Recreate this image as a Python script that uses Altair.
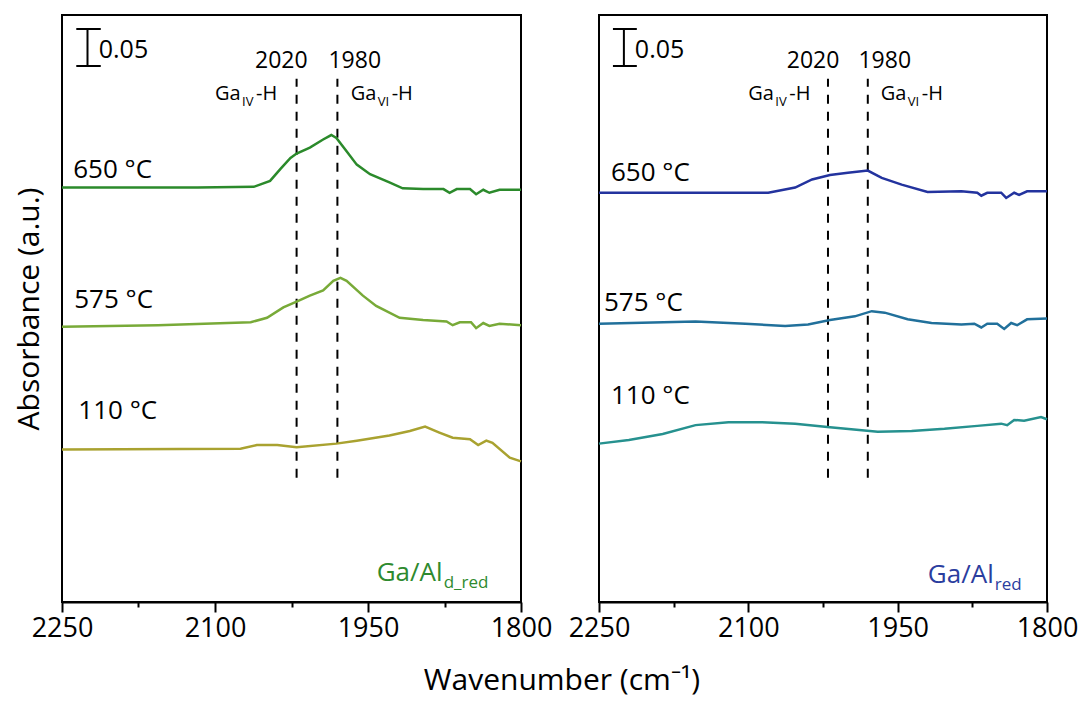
import altair as alt
import pandas as pd

# ---------------- data (absorbance incl. stacking offset) ----------------
L650_wn = [2250, 2117, 2062, 2046, 2036, 2026, 2020, 2007, 1994, 1986, 1981, 1971, 1961, 1948, 1929, 1916, 1896, 1876, 1870, 1863, 1850, 1844, 1837, 1831, 1821, 1800]
L650_A = [0.560, 0.560, 0.561, 0.569, 0.585, 0.600, 0.606, 0.614, 0.625, 0.631, 0.627, 0.609, 0.591, 0.578, 0.567, 0.559, 0.558, 0.558, 0.553, 0.558, 0.558, 0.551, 0.557, 0.553, 0.557, 0.557]

L575_wn = [2250, 2156, 2065, 2049, 2033, 2020, 2007, 1994, 1984, 1977, 1971, 1955, 1942, 1919, 1896, 1873, 1867, 1860, 1849, 1844, 1837, 1831, 1821, 1800]
L575_A = [0.372, 0.374, 0.378, 0.384, 0.398, 0.406, 0.414, 0.421, 0.434, 0.438, 0.434, 0.414, 0.400, 0.384, 0.381, 0.379, 0.374, 0.378, 0.378, 0.370, 0.377, 0.373, 0.376, 0.374]

L110_wn = [2250, 2075, 2059, 2039, 2020, 1981, 1961, 1929, 1909, 1894, 1880, 1867, 1850, 1842, 1834, 1828, 1811, 1800]
L110_A = [0.206, 0.207, 0.212, 0.212, 0.209, 0.214, 0.218, 0.225, 0.231, 0.237, 0.229, 0.222, 0.220, 0.212, 0.218, 0.215, 0.195, 0.190]

R650_wn = [2250, 2120, 2080, 2053, 2036, 2018, 2000, 1980, 1966, 1946, 1920, 1886, 1870, 1866, 1860, 1846, 1841, 1833, 1828, 1820, 1800]
R650_A = [0.553, 0.553, 0.553, 0.560, 0.571, 0.577, 0.580, 0.583, 0.573, 0.564, 0.554, 0.555, 0.553, 0.549, 0.553, 0.553, 0.546, 0.553, 0.550, 0.555, 0.555]

R575_wn = [2250, 2153, 2103, 2063, 2040, 2018, 1993, 1976, 1963, 1940, 1916, 1886, 1873, 1866, 1860, 1850, 1843, 1836, 1830, 1820, 1800]
R575_A = [0.376, 0.379, 0.376, 0.373, 0.375, 0.381, 0.386, 0.393, 0.391, 0.382, 0.377, 0.375, 0.376, 0.371, 0.376, 0.376, 0.369, 0.377, 0.374, 0.382, 0.383]

R110_wn = [2250, 2220, 2186, 2153, 2120, 2086, 2053, 2018, 1986, 1970, 1936, 1903, 1870, 1846, 1840, 1833, 1823, 1806, 1800]
R110_A = [0.214, 0.219, 0.227, 0.239, 0.243, 0.243, 0.241, 0.236, 0.232, 0.230, 0.231, 0.234, 0.238, 0.241, 0.239, 0.246, 0.245, 0.250, 0.247]

temps = ["650 °C", "575 °C", "110 °C"]
left_colors = ["#2b8a2b", "#78aa38", "#a9a230"]
right_colors = ["#23339e", "#21709b", "#26918f"]

marker_wn = [2020, 1980]
marker_labels = ["2020", "1980"]

L_temp_pos_wn = [2239, 2238, 2234]
L_temp_pos_A = [0.584, 0.408, 0.258]
R_temp_pos_wn = [2238, 2245, 2238]
R_temp_pos_A = [0.580, 0.404, 0.278]

FONT = "Open Sans"
X_DOMAIN = [1800, 2250]
Y_DOMAIN = [0, 0.7932]
TICKS = [2250, 2175, 2100, 2025, 1950, 1875, 1800]

AXIS_X = alt.Axis(
    values=TICKS, format="d",
    labelExpr="datum.value % 150 === 0 ? datum.label : ''",
    tickSize={"condition": {"test": "datum.value % 150 === 0", "value": 10}, "value": 5},
    tickWidth=2, tickColor="black", domainColor="black", domainWidth=2,
    labelFontSize=27, labelFont=FONT, labelColor="black", labelPadding=3,
    labelFlush=False, labelOverlap=False, grid=False, title=None,
)


def xenc(field="wn"):
    return alt.X(f"{field}:Q", scale=alt.Scale(domain=X_DOMAIN, reverse=True, nice=False, zero=False),
                 axis=AXIS_X, title=None)


def yenc(field, left):
    if left:
        ax = alt.Axis(title="Absorbance (a.u.)", labels=False, ticks=False, domain=False, grid=False,
                      titleFontSize=30, titleFont=FONT, titleFontWeight="normal", titleColor="black",
                      titlePadding=18)
    else:
        ax = None
    return alt.Y(f"{field}:Q", scale=alt.Scale(domain=Y_DOMAIN, nice=False, zero=False), axis=ax)


def text_layer(rows, size, left, color="black", align="left", baseline="alphabetic", dx=0, dy=0):
    df = pd.DataFrame(rows, columns=["wn", "A", "t"])
    return alt.Chart(df).mark_text(font=FONT, fontSize=size, align=align, baseline=baseline,
                                   color=color, dx=dx, dy=dy).encode(
        x=xenc(), y=yenc("A", left), text="t:N")


def panel(series, colors, temp_wn, temp_A, sample_main, sample_sub, sample_wn, sample_A,
          sample_color, sub_dx, left, width):
    rows = []
    for (wn, A), t in zip(series, temps):
        for w, a in zip(wn, A):
            rows.append({"wn": w, "A": a, "s": t})
    df = pd.DataFrame(rows)
    lines = alt.Chart(df).mark_line(strokeWidth=2.5).encode(
        x=xenc(), y=yenc("A", left),
        color=alt.Color("s:N", scale=alt.Scale(domain=temps, range=colors), legend=None),
        detail="s:N",
    )
    # dashed marker lines
    dash_df = pd.DataFrame({"wn": marker_wn, "A": [0.168] * 2, "A2": [0.707] * 2})
    dashes = alt.Chart(dash_df).mark_rule(strokeDash=[9, 8], strokeWidth=2, color="black").encode(
        x=xenc(), y=yenc("A", left), y2="A2:Q")
    # scale bar 0.05
    bar_df = pd.DataFrame({"wn": [2225], "A": [0.7243], "A2": [0.7743]})
    bar = alt.Chart(bar_df).mark_rule(strokeWidth=2, color="black").encode(
        x=xenc(), y=yenc("A", left), y2="A2:Q")
    cap_df = pd.DataFrame({"wn": [2236, 2236], "wn2": [2212, 2212], "A": [0.7243, 0.7743]})
    caps = alt.Chart(cap_df).mark_rule(strokeWidth=2, color="black").encode(
        x=xenc(), x2="wn2:Q", y=yenc("A", left))
    layers = [dashes, lines, bar, caps,
              text_layer([[2214, 0.7355, "0.05"]], 25, left),
              text_layer([[2035, 0.721, "2020"], [1963, 0.721, "1980"]], 23, left, align="center"),
              text_layer([[2100, 0.679, "Ga"], [1967, 0.679, "Ga"]], 20, left),
              text_layer([[2100, 0.679, "IV"]], 13, left, dx=27, dy=6),
              text_layer([[1967, 0.679, "VI"]], 13, left, dx=27, dy=6),
              text_layer([[2100, 0.679, "-H"], [1967, 0.679, "-H"]], 20, left, dx=41),
              text_layer([[w, a, t] for w, a, t in zip(temp_wn, temp_A, temps)], 26, left, baseline="middle"),
              text_layer([[sample_wn, sample_A, sample_main]], 26, left, color=sample_color),
              text_layer([[sample_wn, sample_A, sample_sub]], 17, left, color=sample_color, dx=sub_dx, dy=7),
              ]
    return alt.layer(*layers).properties(width=width, height=587)


left = panel([(L650_wn, L650_A), (L575_wn, L575_A), (L110_wn, L110_A)], left_colors,
             L_temp_pos_wn, L_temp_pos_A, "Ga/Al", "d_red", 1941.5, 0.0284, "#2e8a2e", 67, True, 459)
right = panel([(R650_wn, R650_A), (R575_wn, R575_A), (R110_wn, R110_A)], right_colors,
              R_temp_pos_wn, R_temp_pos_A, "Ga/Al", "red", 1919.7, 0.026, "#2a3d9e", 67, False, 448)

chart = alt.hconcat(left, right, spacing=78, bounds="flush").resolve_scale(
    color="independent"
).properties(
    title=alt.TitleParams(text="Wavenumber (cm⁻¹)", orient="bottom", anchor="middle", font=FONT,
                          fontSize=30, fontWeight="normal", color="black", offset=24, dx=16),
    padding={"left": 5, "top": 6, "right": 0, "bottom": 3},
).configure_view(stroke="black", strokeWidth=2)

chart.save("out.html", embed_options={"renderer": "svg", "actions": False})
